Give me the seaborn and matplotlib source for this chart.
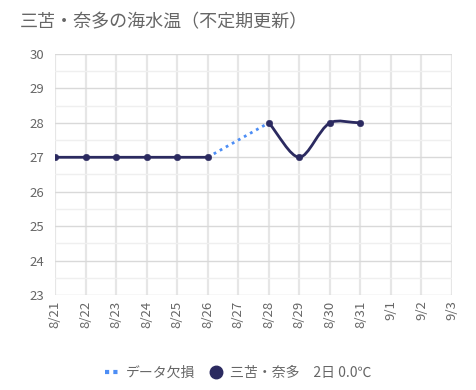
import numpy as np
import pandas as pd
import matplotlib as mpl; mpl.use("Agg")
import matplotlib.pyplot as plt
import seaborn as sns
from matplotlib.path import Path
from matplotlib.patches import PathPatch
from matplotlib.lines import Line2D

# datos
fechas = ["8/21", "8/22", "8/23", "8/24", "8/25", "8/26", "8/27",
          "8/28", "8/29", "8/30", "8/31", "9/1", "9/2", "9/3"]
temp = [27, 27, 27, 27, 27, 27, None, 28, 27, 28, 28, None, None, None]
titulo = "三苫・奈多の海水温（不定期更新）"
leyenda_gap = "データ欠損"
leyenda_serie = "三苫・奈多　2日 0.0℃"

sns.set_style("white")
plt.rcParams['font.family'] = ['Noto Sans CJK JP', 'DejaVu Sans']

NAVY = "#2b2a60"
AZUL = "#4d8ef5"
GRIS = "#666666"

df = pd.DataFrame({"x": range(len(fechas)), "fecha": fechas, "temp": temp})
df_ok = df.dropna()

fig = plt.figure(figsize=(4.76, 3.90), dpi=100)
ax = fig.add_axes([55/476, 1-295/390, (452-55)/476, (295-54)/390])
ax.set_xlim(0, 13)
ax.set_ylim(23, 30)

# rejilla
ax.set_yticks(range(23, 31))
ax.set_yticks(np.arange(23.5, 30, 1), minor=True)
ax.set_xticks(df["x"])
ax.set_xticklabels(fechas, rotation=90)
ax.grid(True, which="major", axis="y", color="#d9d9d9", lw=1)
ax.grid(True, which="major", axis="x", color="#e6e6e6", lw=1.6)
ax.grid(True, which="minor", axis="y", color="#efefef", lw=1)
for s in ax.spines.values():
    s.set_visible(False)
ax.tick_params(axis="y", which="major", length=5, color="#d9d9d9", labelcolor=GRIS,
               labelsize=9.5, pad=3)
ax.tick_params(axis="y", which="minor", length=0)
ax.tick_params(axis="x", length=0, labelcolor=GRIS, labelsize=9.5, pad=4)
ax.set_axisbelow(True)

# tramos con datos continuos
segs = []
cur = []
for _, r in df.iterrows():
    if pd.isna(r["temp"]):
        if cur:
            segs.append(cur)
        cur = []
    else:
        cur.append((r["x"], r["temp"]))
if cur:
    segs.append(cur)

# curva suavizada (tension) calculada en pixeles
sx, sy = (452-55)/13, (295-54)/7
def spline_path(pts, t=0.3):
    p = np.array(pts, float)
    q = p * [sx, sy]
    n = len(p)
    cps = []
    for i in range(n):
        a = q[i-1] if i > 0 else q[i]
        b = q[i]
        c = q[i+1] if i < n-1 else q[i]
        d01 = np.hypot(*(b-a)); d12 = np.hypot(*(c-b))
        tot = d01 + d12 if d01 + d12 > 0 else 1
        fa, fb = t*d01/tot, t*d12/tot
        cps.append((b - fa*(c-a), b + fb*(c-a)))
    verts = [p[0]]
    codes = [Path.MOVETO]
    for i in range(n-1):
        verts += [cps[i][1]/[sx, sy], cps[i+1][0]/[sx, sy], p[i+1]]
        codes += [Path.CURVE4]*3
    return Path(verts, codes)

for sg in segs:
    ax.add_patch(PathPatch(spline_path(sg), fill=False, ec=NAVY, lw=2, zorder=3))

# tramo sin datos (8/26 -> 8/28)
gap = df_ok[df_ok["fecha"].isin(["8/26", "8/28"])]
ax.plot(gap["x"], gap["temp"], color=AZUL, lw=2, ls=(0, (1, 1.5)), zorder=2)

sns.scatterplot(data=df_ok, x="x", y="temp", ax=ax, color=NAVY, s=22,
                edgecolor=NAVY, zorder=4, legend=False)
ax.set_xlabel("")
ax.set_ylabel("")
ax.set_xlim(0, 13)
ax.set_ylim(23, 30)

fig.text(20/476, 1-22/390, titulo, color=GRIS, fontsize=13, va="center", ha="left")

handles = [Line2D([], [], color=AZUL, lw=3, ls=(0, (1, 1))),
           Line2D([], [], color=NAVY, marker="o", ls="none", markersize=9)]
fig.legend(handles, [leyenda_gap, leyenda_serie], loc="center",
           bbox_to_anchor=(0.5, 1-373/390), ncol=2, frameon=False,
           fontsize=10, labelcolor=GRIS, handlelength=1.0, handletextpad=0.5,
           columnspacing=1.0)

plt.savefig("out.png", dpi=100)
print("OK -> out.png")
